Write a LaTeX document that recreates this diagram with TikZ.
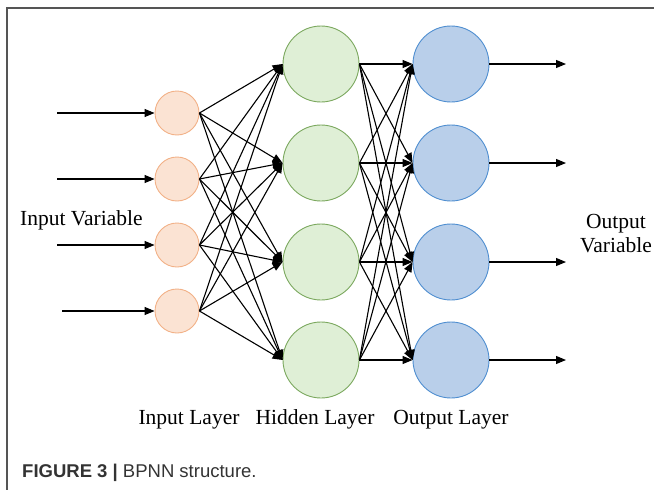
\documentclass[tikz,border=0pt]{standalone}
\usepackage{fontspec}
\setmainfont{Liberation Serif}
\setsansfont{Liberation Sans}
\usetikzlibrary{arrows.meta}
\definecolor{inFill}{HTML}{FBE3D3}
\definecolor{inDraw}{HTML}{F2B187}
\definecolor{hidFill}{HTML}{DFEFD6}
\definecolor{hidDraw}{HTML}{7BA85E}
\definecolor{outFill}{HTML}{B9CFEA}
\definecolor{outDraw}{HTML}{4F8ED0}
\definecolor{frameGray}{HTML}{555555}
\definecolor{capGray}{HTML}{333333}
\tikzset{
  inode/.style={circle, draw=inDraw, fill=inFill, line width=0.9pt, minimum size=44pt, inner sep=0pt},
  hnode/.style={circle, draw=hidDraw, fill=hidFill, line width=0.9pt, minimum size=76pt, inner sep=0pt},
  onode/.style={circle, draw=outDraw, fill=outFill, line width=0.9pt, minimum size=76pt, inner sep=0pt},
  link/.style={-{Triangle[length=10pt,width=8pt]}, line width=1.1pt, black},
  lbl/.style={font=\fontsize{21.5}{24}\selectfont, inner sep=0pt},
  framestyle/.style={draw=frameGray, line width=1.5pt}
}
\begin{document}
\begin{tikzpicture}[x=1pt,y=-1pt]
\useasboundingbox (0,0) rectangle (654,490);
\draw[framestyle] (654,8) -- (7,8) -- (7,490);
% input layer
\node[inode] (i1) at (177,113) {};
\node[inode] (i2) at (177,179) {};
\node[inode] (i3) at (177,245) {};
\node[inode] (i4) at (177,311) {};
% hidden layer
\node[hnode] (h1) at (321,64) {};
\node[hnode] (h2) at (321,163) {};
\node[hnode] (h3) at (321,262) {};
\node[hnode] (h4) at (321,360) {};
% output layer
\node[onode] (o1) at (451,64) {};
\node[onode] (o2) at (451,163) {};
\node[onode] (o3) at (451,262) {};
\node[onode] (o4) at (451,360) {};
% free ends of input and output arrows
\coordinate (s1) at (57,113);
\coordinate (s2) at (57,179);
\coordinate (s3) at (57,245);
\coordinate (s4) at (62,311);
\coordinate (e1) at (566,64);
\coordinate (e2) at (566,163);
\coordinate (e3) at (566,262);
\coordinate (e4) at (566,360);
\foreach \k in {1,...,4} {
  \draw[link] (s\k) -- (i\k.west);
  \draw[link] (o\k.east) -- (e\k);
}
\foreach \a in {1,...,4} {
  \foreach \b in {1,...,4} {
    \draw[link] (i\a.east) -- (h\b.west);
    \draw[link] (h\a.east) -- (o\b.west);
  }
}
% labels
\node[lbl, anchor=base west] (tin) at (20,225) {Input Variable};
\node[lbl, align=center] (tout) at (616,234) {Output\\Variable};
\node[lbl, anchor=base] (lin) at (189,424) {Input Layer};
\node[lbl, anchor=base] (lhid) at (315,424) {Hidden Layer};
\node[lbl, anchor=base] (lout) at (451,424) {Output Layer};
\node[anchor=base west, inner sep=0pt, text=capGray, font=\sffamily\fontsize{18.5}{22}\selectfont] (cap) at (22,477) {\textbf{FIGURE 3 |} BPNN structure.};
\end{tikzpicture}
\end{document}
